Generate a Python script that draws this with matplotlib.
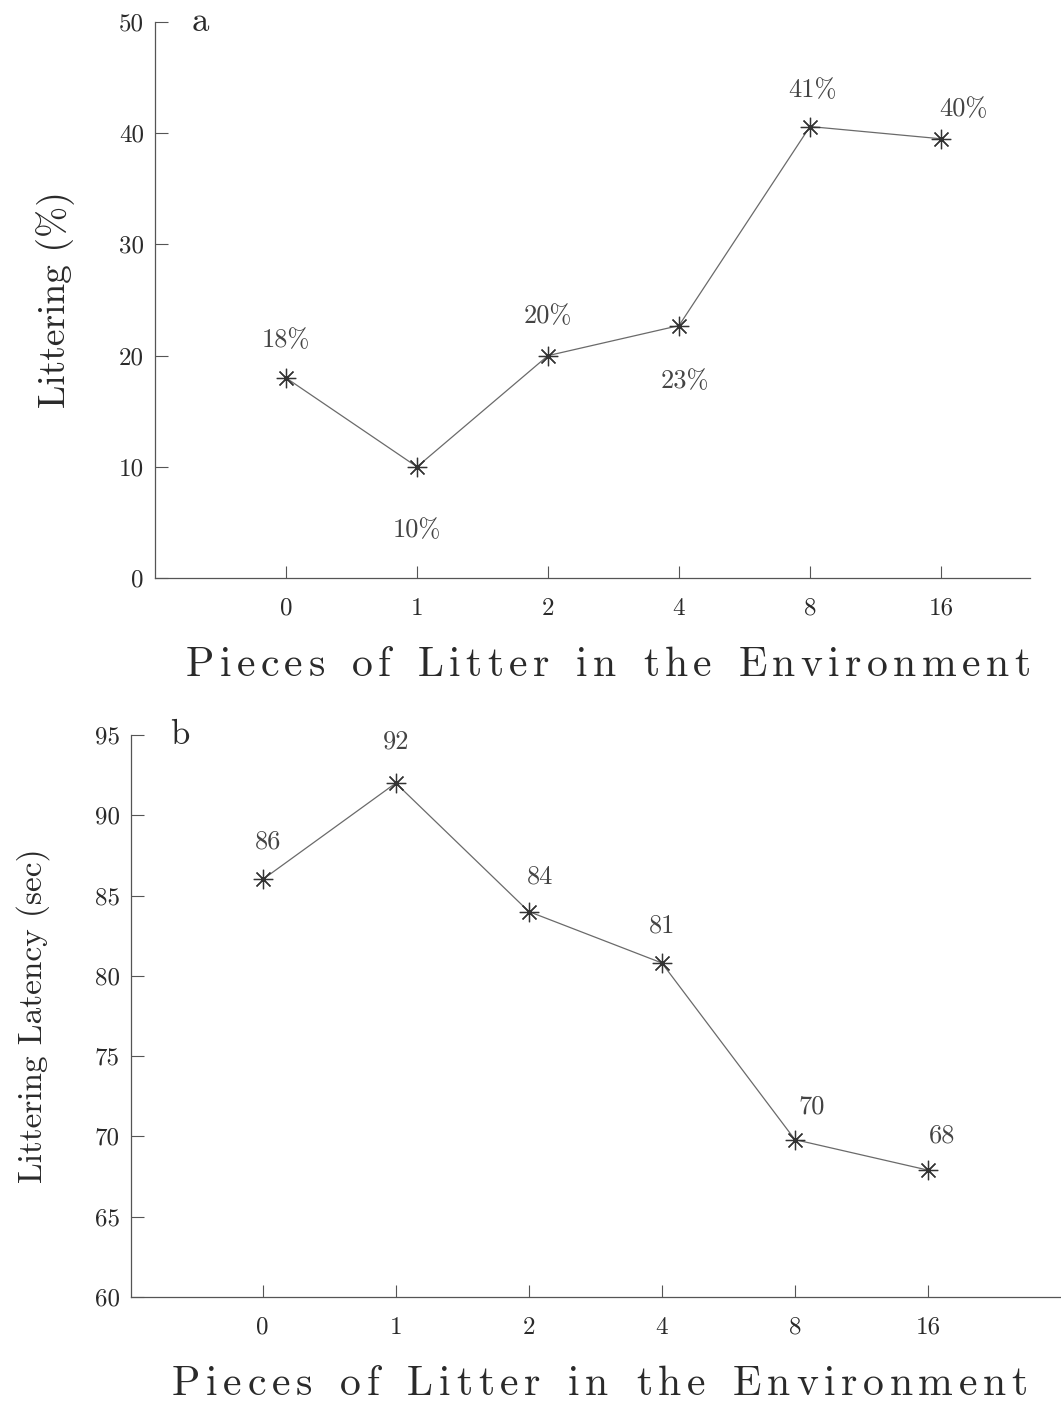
import matplotlib
matplotlib.use("Agg")
import matplotlib.pyplot as plt

# ---- data ----
categories = ["0", "1", "2", "4", "8", "16"]
littering_pct = [18, 10, 20, 22.7, 40.6, 39.5]
littering_labels = ["18%", "10%", "20%", "23%", "41%", "40%"]
latency_sec = [86, 92, 84, 80.8, 69.8, 67.9]
latency_labels = ["86", "92", "84", "81", "70", "68"]
yticks_a = [0, 10, 20, 30, 40, 50]
yticks_b = [60, 65, 70, 75, 80, 85, 90, 95]
xlabel_text = "Pieces of Litter in the Environment"

# label offsets (points): above (+) or below (-)
offsets_a = [(0, 27), (0, -46), (0, 28), (4, -40), (2, 26), (16, 21)]
offsets_b = [(4, 27), (0, 30), (8, 25), (0, 27), (12, 24), (10, 25)]

FONT = "cmr10"
INK = "#2a2a2a"
LINE = "#6a6a6a"

fig = plt.figure(figsize=(10.61, 14.02), dpi=100)
fig.patch.set_facecolor("white")

marker = (8, 2, 0)


def panel(rect, values, labels, offsets, yticks, ylim, xlim, ylabel, letter, ylabel_x, ylabel_size):
    ax = fig.add_axes(rect)
    x = list(range(len(categories)))
    ax.plot(x, values, color=LINE, lw=0.9, marker=marker, markersize=14,
            markeredgecolor="#333333", markeredgewidth=0.9)
    for xi, v, lab, off in zip(x, values, labels, offsets):
        ax.annotate(lab, (xi, v), xytext=off, textcoords="offset points",
                    ha="center", va="center", fontsize=19, family=FONT, color="#444444")
    ax.set_xlim(*xlim)
    ax.set_ylim(*ylim)
    ax.set_xticks(x)
    ax.set_xticklabels(categories, family=FONT, fontsize=18, color=INK)
    ax.set_yticks(yticks)
    ax.set_yticklabels([str(t) for t in yticks], family=FONT, fontsize=18, color=INK)
    ax.tick_params(axis="x", direction="in", length=9, width=0.8, pad=14, colors="#555555",
                   labelcolor=INK)
    ax.tick_params(axis="y", direction="in", length=9, width=0.8, pad=8, colors="#555555",
                   labelcolor=INK)
    for s in ("top", "right"):
        ax.spines[s].set_visible(False)
    for s in ("left", "bottom"):
        ax.spines[s].set_color("#555555")
        ax.spines[s].set_linewidth(0.9)
    ax.set_facecolor("none")
    ax.text(0.042, 1.0, letter, transform=ax.transAxes, fontsize=25, family=FONT,
            color=INK, ha="left", va="center")
    fig.text(ylabel_x, rect[1] + rect[3] * 0.5, ylabel, rotation=90,
             fontsize=ylabel_size, family=FONT, color=INK, ha="center", va="center")
    return ax


def tracked_text(text, x0_px, x1_px, y_px, size):
    """Draw text spread (letter-spaced) between x0_px and x1_px (figure pixels, y from top)."""
    renderer = fig.canvas.get_renderer()
    widths = []
    for ch in text:
        if ch == " ":
            t = fig.text(0, 0, "n", fontsize=size, family=FONT)
            w = t.get_window_extent(renderer).width * 0.7
        else:
            t = fig.text(0, 0, ch, fontsize=size, family=FONT)
            w = t.get_window_extent(renderer).width
        t.remove()
        widths.append(w)
    total = sum(widths)
    gap = (x1_px - x0_px - total) / (len(text) - 1)
    W, H = fig.get_size_inches() * fig.dpi
    x = x0_px
    for ch, w in zip(text, widths):
        if ch != " ":
            fig.text(x / W, 1 - y_px / H, ch, fontsize=size, family=FONT, color=INK,
                     ha="left", va="baseline")
        x += w + gap


ax1 = panel([0.1461, 0.5877, 0.8247, 0.3966], littering_pct, littering_labels, offsets_a,
            yticks_a, (0, 50), (-1.0, 5.68), "Littering (%)", "a", 0.052, 27)
ax2 = panel([0.1235, 0.0749, 0.8765, 0.4009], latency_sec, latency_labels, offsets_b,
            yticks_b, (60, 95), (-0.99, 6.0), "Littering Latency (sec)", "b", 0.031, 24)

tracked_text(xlabel_text, 186, 1030, 676, 30)
tracked_text(xlabel_text, 172, 1028, 1395, 30)

fig.savefig("out.png", dpi=100, facecolor="white")
